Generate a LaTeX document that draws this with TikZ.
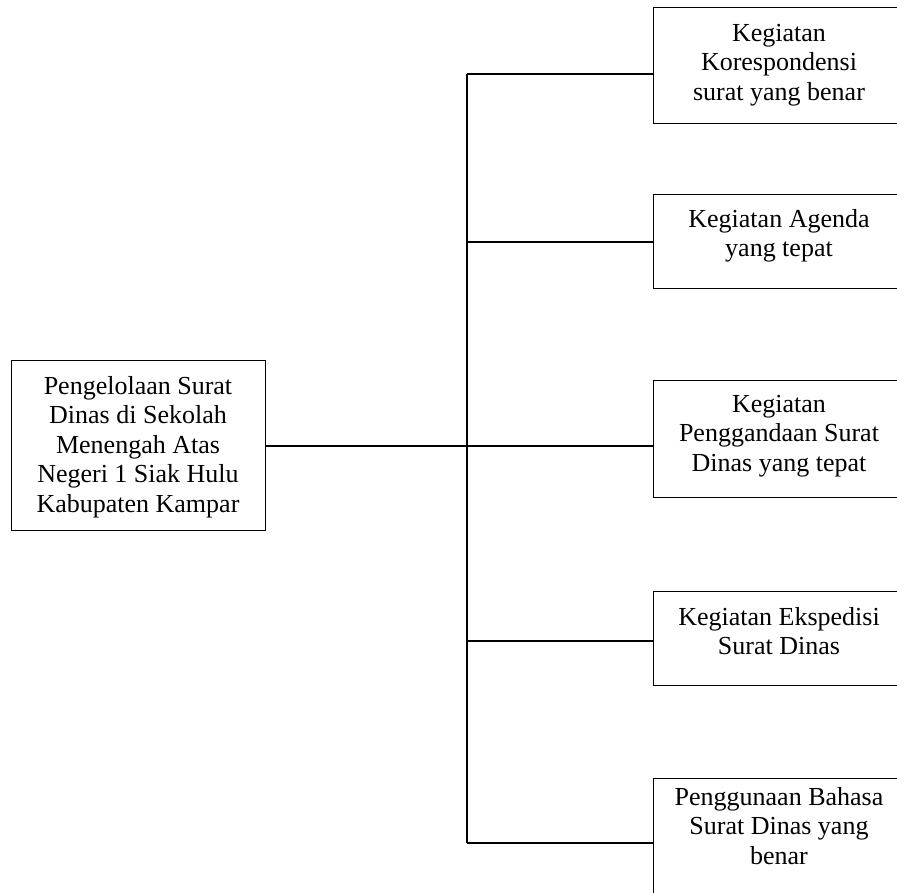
\documentclass[tikz,border=0pt]{standalone}
\usepackage{fontspec}
\setmainfont{Liberation Serif}
\tikzset{
  box/.style={draw=black, line width=1.3pt, rectangle, inner sep=0pt, anchor=north west},
  lbl/.style={inner sep=0pt, anchor=north, align=center, font=\fontsize{26}{29.5}\selectfont},
  conn/.style={draw=black, line width=1.3pt},
}
\begin{document}
\begin{tikzpicture}[x=1pt,y=-1pt]
\useasboundingbox (0,0) rectangle (897,892);
\clip (0,0) rectangle (897,892);
% left box
\node[box, minimum width=254pt, minimum height=170pt] (m) at (11,360) {};
\node[lbl] (mt) at (138,376) {Pengelolaan Surat\\Dinas di Sekolah\\Menengah Atas\\Negeri 1 Siak Hulu\\Kabupaten Kampar};
% right boxes
\node[box, minimum width=247pt, minimum height=116pt] (b1) at (653,7) {};
\node[box, minimum width=247pt, minimum height=94pt] (b2) at (653,194) {};
\node[box, minimum width=247pt, minimum height=117pt] (b3) at (653,380) {};
\node[box, minimum width=247pt, minimum height=94pt] (b4) at (653,591) {};
\node[box, minimum width=247pt, minimum height=130pt] (b5) at (653,778) {};
\node[lbl] (t1) at (779,24) {Kegiatan\\Korespondensi\\surat yang benar};
\node[lbl] (t2) at (779,209) {Kegiatan Agenda\\yang tepat};
\node[lbl] (t3) at (779,395) {Kegiatan\\Penggandaan Surat\\Dinas yang tepat};
\node[lbl] (t4) at (779,607) {Kegiatan Ekspedisi\\Surat Dinas};
\node[lbl] (t5) at (779,787) {Penggunaan Bahasa\\Surat Dinas yang\\benar};
% trunk
\coordinate (j1) at (467,74);
\coordinate (j2) at (467,242);
\coordinate (j3) at (467,446);
\coordinate (j4) at (467,641);
\coordinate (j5) at (467,843);
\draw[conn] (j1) -- (j5);
\draw[conn] (m.east |- j3) -- (j3);
\draw[conn] (j1) -- (j1 -| b1.west);
\draw[conn] (j2) -- (j2 -| b2.west);
\draw[conn] (j3) -- (j3 -| b3.west);
\draw[conn] (j4) -- (j4 -| b4.west);
\draw[conn] (j5) -- (j5 -| b5.west);
\end{tikzpicture}
\end{document}
